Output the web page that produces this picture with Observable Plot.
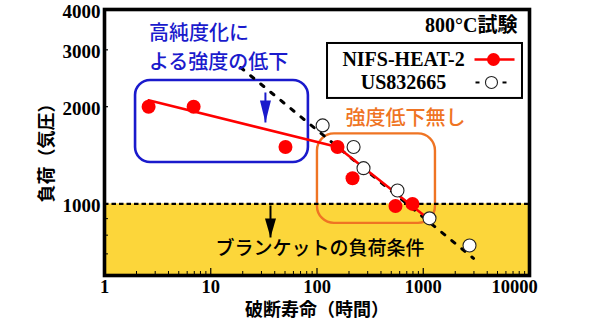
<!DOCTYPE html>
<html><head><meta charset="utf-8">
<script src="https://cdn.jsdelivr.net/npm/d3@7"></script>
<script src="https://cdn.jsdelivr.net/npm/@observablehq/plot@0.6"></script>
<style>
html,body{margin:0;padding:0;background:#fff;}
</style>
</head><body><div id="chart"></div>
<script>
// ---- data ----
const nifsRupture = [2.6, 6.9, 50.5, 156, 216, 548, 792];
const nifsLoad    = [2000, 2000, 1500, 1500, 1200, 985, 1000];
const usRupture   = [113, 221, 274, 572, 1145, 2725];
const usLoad      = [1750, 1500, 1290, 1100, 902, 743];
const nifsFitRupture = [2.6, 156, 1100];
const nifsFitLoad    = [2094, 1500, 902];
const usFitRupture   = [19.1, 2972];
const usFitLoad      = [2645, 678];
const blanketLoad = 1000;
const xDomain = [1, 10000];
const yDomain = [600, 4000];
const xTickLabels = [1, 10, 100, 1000, 10000];
const yTickLabels = [1000, 2000, 3000, 4000];
const yMinorTicks = [700, 800, 900];
const seriesNames = ["NIFS-HEAT-2", "US832665"];
// annotation regions / anchors in data space
const purityRegion = [{x1: 1.96, x2: 83, y1: 1343, y2: 2410}];
const noDropRegion = [{x1: 101, x2: 1303, y1: 870, y2: 1647}];
const blueNotes = [{x: 2.62, y: 3372, t: "高純度化に"}, {x: 2.62, y: 2742, t: "よる強度の低下"}];
const orangeNote = [{x: 185, y: 1839, t: "強度低下無し"}];
const blanketNote = [{x: 11.1, y: 723, t: "ブランケットの負荷条件"}];
const tempNote = [{x: 7710, y: 3568, t: "800°C試験"}];
const blueArrow = [{x: 32.7, y1: 2213, y2: 1787}];
const blackArrow = [{x: 36.5, y1: 989, y2: 787}];
// legend layout in data space
const legendBox = [{x1: 125.6, x2: 8590, y1: 2121, y2: 3139}];
const legendText = [{x: 652, y: 2800, t: seriesNames[0]}, {x: 652, y: 2377, t: seriesNames[1]}];
const legendRedLine = [{x1: 3037, x2: 7228, y: 2800}];
const legendRedDot = [{x: 4584, y: 2800}];
const legendDashes = [{x1: 3103, x2: 3383, y: 2377}, {x1: 5571, x2: 6075, y: 2377}];
const legendOpenDot = [{x: 4387, y: 2377}];

const nifs = nifsRupture.map((x, i) => ({x, y: nifsLoad[i]}));
const us = usRupture.map((x, i) => ({x, y: usLoad[i]}));
const nifsFit = nifsFitRupture.map((x, i) => ({x, y: nifsFitLoad[i]}));
const usFit = usFitRupture.map((x, i) => ({x, y: usFitLoad[i]}));
const xMinor = d3.scaleLog().domain(xDomain).ticks().filter(v => !xTickLabels.includes(v));

const serif = "'Liberation Serif', 'Times New Roman', serif";
const cjk = "'Noto Sans CJK JP', 'Noto Sans', sans-serif";
const mixed = "'Liberation Serif', 'Noto Sans CJK JP', serif";
const BLUE = "#1a1acc", ORANGE = "#ef7423", RED = "#ff0000", GOLD = "#fcd63a";

const headDown = (w, h) => ({draw(ctx) { ctx.moveTo(-w / 2, -h); ctx.lineTo(w / 2, -h); ctx.lineTo(0, 0); ctx.closePath(); }});

const chart = Plot.plot({
  width: 600, height: 323,
  marginTop: 9, marginRight: 71, marginBottom: 48, marginLeft: 104,
  x: {type: "log", domain: xDomain},
  y: {type: "log", domain: yDomain},
  style: {background: "white", overflow: "visible"},
  marks: [
    Plot.rect([{x1: xDomain[0], x2: xDomain[1], y1: yDomain[0], y2: blanketLoad}], {x1: "x1", x2: "x2", y1: "y1", y2: "y2", fill: GOLD}),
    Plot.rect(purityRegion, {x1: "x1", x2: "x2", y1: "y1", y2: "y2", fill: "none", stroke: BLUE, strokeWidth: 2.6, rx: 15}),
    Plot.rect(noDropRegion, {x1: "x1", x2: "x2", y1: "y1", y2: "y2", fill: "none", stroke: ORANGE, strokeWidth: 2.4, rx: 17}),
    Plot.ruleY([blanketLoad], {stroke: "black", strokeWidth: 2.2, strokeDasharray: "4.5,3"}),
    Plot.frame({stroke: "black", strokeWidth: 3.6}),
    // ticks (inward)
    Plot.axisX(xTickLabels, {anchor: "bottom", tickSize: -7, strokeWidth: 1.2, fill: "none", label: null}),
    Plot.axisX(xMinor, {anchor: "bottom", tickSize: -4, strokeWidth: 1, fill: "none", label: null}),
    Plot.axisY(yTickLabels, {anchor: "left", tickSize: -4, strokeWidth: 1.2, fill: "none", label: null}),
    Plot.axisY(yMinorTicks, {anchor: "left", tickSize: -4, strokeWidth: 1, fill: "none", label: null}),
    // tick labels
    Plot.axisX(xTickLabels.slice(0, 4), {anchor: "bottom", tickSize: 0, tickPadding: 4, tickFormat: d => String(d), fontFamily: serif, fontWeight: "bold", fontSize: 18.5, fill: "black", label: null}),
    Plot.axisX(xTickLabels.slice(4), {anchor: "bottom", tickSize: 0, tickPadding: 4, dx: -15, tickFormat: d => String(d), fontFamily: serif, fontWeight: "bold", fontSize: 18.5, fill: "black", label: null}),
    Plot.axisY(yTickLabels, {anchor: "left", tickSize: 0, tickPadding: 4, dy: 2, tickFormat: d => String(d), fontFamily: serif, fontWeight: "bold", fontSize: 19, fill: "black", label: null}),
    // axis titles
    Plot.text(["破断寿命（時間）"], {frameAnchor: "bottom", dy: 35, textAnchor: "middle", lineAnchor: "middle", fontFamily: cjk, fontWeight: "bold", fontSize: 18, fill: "black"}),
    Plot.text(["負荷（気圧）"], {frameAnchor: "left", dx: -57, dy: 6, rotate: -90, textAnchor: "middle", lineAnchor: "middle", fontFamily: cjk, fontWeight: "bold", fontSize: 18, fill: "black"}),
    // fit lines & points
    Plot.line(usFit, {x: "x", y: "y", stroke: "black", strokeWidth: 3, strokeDasharray: "4,9"}),
    Plot.line(nifsFit, {x: "x", y: "y", stroke: RED, strokeWidth: 2.5}),
    Plot.dot(nifs, {x: "x", y: "y", r: 7, fill: RED}),
    Plot.dot(us, {x: "x", y: "y", r: 6.5, fill: "white", stroke: "#222", strokeWidth: 1.1}),
    // arrows
    Plot.link(blueArrow, {x1: "x", x2: "x", y1: "y1", y2: "y2", stroke: BLUE, strokeWidth: 2}),
    Plot.dot(blueArrow, {x: "x", y: "y2", symbol: headDown(11, 22), fill: BLUE, stroke: "none"}),
    Plot.link(blackArrow, {x1: "x", x2: "x", y1: "y1", y2: "y2", stroke: "black", strokeWidth: 2}),
    Plot.dot(blackArrow, {x: "x", y: "y2", symbol: headDown(11, 19), fill: "black", stroke: "none"}),
    // annotations
    Plot.text(blueNotes, {x: "x", y: "y", text: "t", textAnchor: "start", fill: BLUE, fontFamily: cjk, fontWeight: 500, fontSize: 20}),
    Plot.text(orangeNote, {x: "x", y: "y", text: "t", textAnchor: "start", fill: ORANGE, fontFamily: cjk, fontWeight: 500, fontSize: 20}),
    Plot.text(blanketNote, {x: "x", y: "y", text: "t", textAnchor: "start", fill: "black", fontFamily: cjk, fontWeight: 500, fontSize: 19}),
    Plot.text(tempNote, {x: "x", y: "y", text: "t", textAnchor: "end", fill: "black", fontFamily: mixed, fontWeight: "bold", fontSize: 20}),
    // legend
    Plot.rect(legendBox, {x1: "x1", x2: "x2", y1: "y1", y2: "y2", fill: "white", stroke: "black", strokeWidth: 2}),
    Plot.text(legendText, {x: "x", y: "y", text: "t", textAnchor: "middle", fontFamily: serif, fontWeight: "bold", fontSize: 20, fill: "black"}),
    Plot.link(legendRedLine, {x1: "x1", x2: "x2", y1: "y", y2: "y", stroke: RED, strokeWidth: 2.5}),
    Plot.dot(legendRedDot, {x: "x", y: "y", r: 6.5, fill: RED}),
    Plot.link(legendDashes, {x1: "x1", x2: "x2", y1: "y", y2: "y", stroke: "black", strokeWidth: 2}),
    Plot.dot(legendOpenDot, {x: "x", y: "y", r: 6, fill: "white", stroke: "#222", strokeWidth: 1.1})
  ]
});
document.getElementById("chart").appendChild(chart);
</script>
</body></html>
